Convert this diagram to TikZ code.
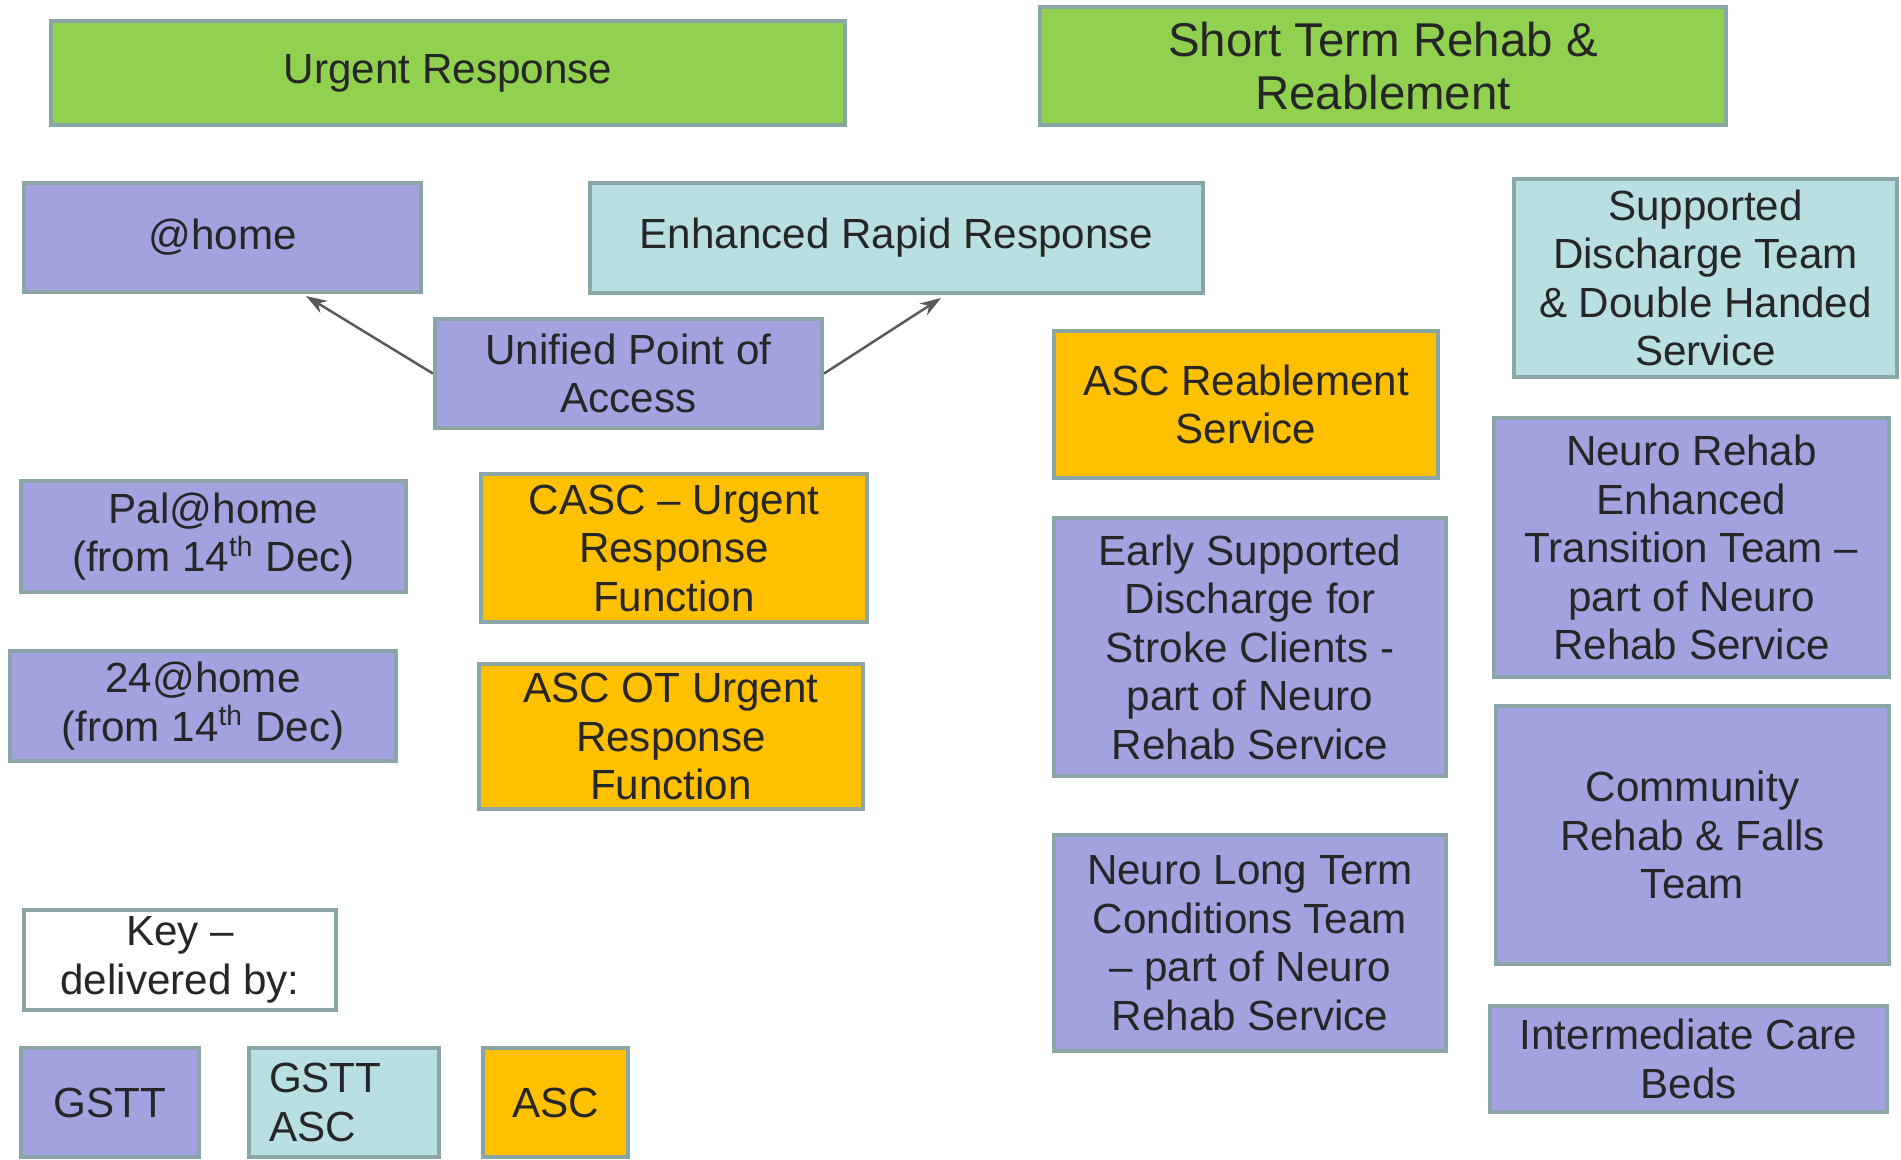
\documentclass[tikz,border=0pt]{standalone}
\usepackage{fontspec}
\setmainfont{Liberation Sans}
\usetikzlibrary{arrows.meta}
\definecolor{mygreen}{HTML}{92D050}
\definecolor{mypurple}{HTML}{A2A2E0}
\definecolor{myblue}{HTML}{B9DFE3}
\definecolor{myorange}{HTML}{FFC000}
\definecolor{myline}{HTML}{89A5A5}

\begin{document}
\begin{tikzpicture}
\useasboundingbox (0,0) rectangle (19.01,-11.59);
\tikzset{box/.style={draw=myline, line width=1.2pt, inner sep=2pt, align=center,
  font=\fontsize{12}{13.8}\selectfont, text=black!85}}
\tikzset{greenbox/.style={box, fill=mygreen}}
\tikzset{purplebox/.style={box, fill=mypurple}}
\tikzset{bluebox/.style={box, fill=myblue}}
\tikzset{orangebox/.style={box, fill=myorange}}
% headings
\node[greenbox, minimum width=7.94cm, minimum height=1.04cm] (urgent) at (4.48,-0.73) {Urgent Response};
\node[greenbox, minimum width=6.86cm, minimum height=1.18cm, font=\fontsize{13.5}{15}\selectfont] (shortterm) at (13.83,-0.66) {Short Term Rehab \&\\Reablement};
% urgent response services
\node[purplebox, minimum width=3.97cm, minimum height=1.09cm] (home) at (2.225,-2.375) {@home};
\node[bluebox, minimum width=6.13cm, minimum height=1.10cm] (rapid) at (8.965,-2.38) {Enhanced Rapid Response};
\node[purplebox, minimum width=3.87cm, minimum height=1.09cm] (upa) at (6.285,-3.735) {Unified Point of\\Access};
\node[purplebox, minimum width=3.85cm, minimum height=1.11cm] (pal) at (2.135,-5.365) {Pal@home\\(from 14\textsuperscript{th} Dec)};
\node[orangebox, minimum width=3.86cm, minimum height=1.48cm] (casc) at (6.74,-5.48) {CASC -- Urgent\\Response\\Function};
\node[purplebox, minimum width=3.86cm, minimum height=1.10cm] (twentyfour) at (2.03,-7.06) {24@home\\(from 14\textsuperscript{th} Dec)};
\node[orangebox, minimum width=3.84cm, minimum height=1.45cm] (ascot) at (6.71,-7.365) {ASC OT Urgent\\Response\\Function};
% short term rehab services
\node[bluebox, minimum width=3.83cm, minimum height=1.98cm] (discharge) at (17.055,-2.78) {Supported\\Discharge Team\\\& Double Handed\\Service};
\node[orangebox, minimum width=3.84cm, minimum height=1.47cm] (ascreab) at (12.46,-4.045) {ASC Reablement\\Service};
\node[purplebox, minimum width=3.95cm, minimum height=2.59cm] (neuroet) at (16.915,-5.475) {Neuro Rehab\\Enhanced\\Transition Team --\\part of Neuro\\Rehab Service};
\node[purplebox, minimum width=3.92cm, minimum height=2.58cm] (esd) at (12.5,-6.47) {Early Supported\\Discharge for\\Stroke Clients -\\part of Neuro\\Rehab Service};
\node[purplebox, minimum width=3.93cm, minimum height=2.58cm] (community) at (16.925,-8.35) {Community\\Rehab \& Falls\\Team};
\node[purplebox, minimum width=3.92cm, minimum height=2.16cm] (neurolt) at (12.5,-9.43) {Neuro Long Term\\Conditions Team\\-- part of Neuro\\Rehab Service};
\node[purplebox, minimum width=3.97cm, minimum height=1.06cm] (icb) at (16.885,-10.59) {Intermediate Care\\Beds};
% key
\node[box, fill=white, minimum width=3.12cm, minimum height=0.98cm] (key) at (1.80,-9.60) {Key --\\delivered by:};
\node[purplebox, minimum width=1.78cm, minimum height=1.09cm] (gstt) at (1.10,-11.025) {GSTT};
\node[bluebox, minimum width=1.90cm, minimum height=1.09cm, align=left, text width=1.5cm] (gsttasc) at (3.44,-11.025) {GSTT\\ASC};
\node[orangebox, minimum width=1.45cm, minimum height=1.09cm] (asc) at (5.555,-11.025) {ASC};
% arrows from the single point of access
\coordinate (homeend) at (3.06,-2.96);
\coordinate (rapidend) at (9.41,-2.98);
\tikzset{link/.style={-{Stealth[length=6pt,width=4pt]}, draw=black!65, line width=0.7pt}}
\draw[link] (upa.west) -- (homeend);
\draw[link] (upa.east) -- (rapidend);
\end{tikzpicture}
\end{document}
